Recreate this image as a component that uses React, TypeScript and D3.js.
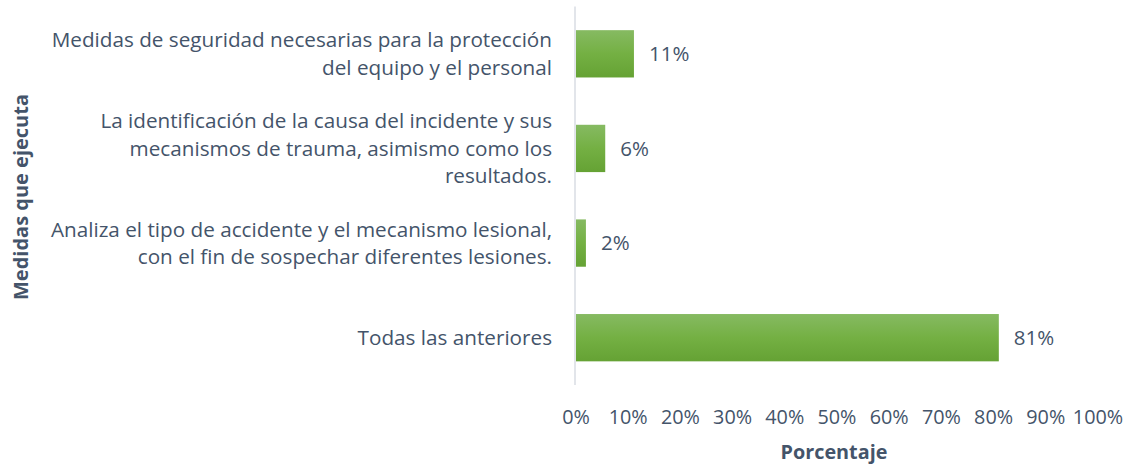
import React from "react";
import * as d3 from "d3";

const categories: string[][] = [
  ["Medidas de seguridad necesarias para la protección", "del equipo y el personal"],
  ["La identificación de la causa del incidente y sus", "mecanismos de trauma, asimismo como los", "resultados."],
  ["Analiza el tipo de accidente y el mecanismo lesional,", "con el fin de sospechar diferentes lesiones."],
  ["Todas las anteriores"],
];
const values: number[] = [0.111, 0.056, 0.019, 0.81];
const ticks: number[] = [0, 0.1, 0.2, 0.3, 0.4, 0.5, 0.6, 0.7, 0.8, 0.9, 1.0];
const xTitle = "Porcentaje";
const yTitle = "Medidas que ejecuta";

const W = 1128;
const H = 467;
const FONT = "'Open Sans', sans-serif";
const TEXT = "#44546a";

export default function App() {
  const x = d3.scaleLinear().domain([0, 1]).range([576, 1098]);
  const y = d3
    .scaleBand<number>()
    .domain(d3.range(categories.length))
    .range([6.5, 385])
    .paddingInner(0.5)
    .paddingOuter(0.25);
  const fmt = d3.format(".0%");
  const lh = 27.5;
  return (
    <svg width={W} height={H} style={{ position: "absolute", left: 0, top: 0, background: "#fff" }}>
      <defs>
        <linearGradient id="g" x1="0" y1="0" x2="0" y2="1">
          <stop offset="0" stopColor="#86ba62" />
          <stop offset="0.5" stopColor="#74b043" />
          <stop offset="1" stopColor="#65a234" />
        </linearGradient>
      </defs>
      <line x1={x(0) - 1} x2={x(0) - 1} y1={6.5} y2={385} stroke="#d9dde3" strokeWidth={1.5} />
      {values.map((v, i) => {
        const y0 = y(i)!;
        const bw = y.bandwidth();
        const cy = y0 + bw / 2;
        const lines = categories[i];
        return (
          <g key={i}>
            <rect x={x(0)} y={y0} width={x(v) - x(0)} height={bw} fill="url(#g)" />
            <text x={x(v) + 15} y={cy} dy="0.35em" fontFamily={FONT} fontSize={20.5} fill={TEXT}>
              {fmt(v)}
            </text>
            <text fontFamily={FONT} fontSize={20.7} fill={TEXT} textAnchor="end">
              {lines.map((l, j) => (
                <tspan key={j} x={552} y={cy + (j - (lines.length - 1) / 2) * lh} dy="0.35em">
                  {l}
                </tspan>
              ))}
            </text>
          </g>
        );
      })}
      {ticks.map((t) => (
        <text key={t} x={x(t)} y={417} dy="0.35em" textAnchor="middle" fontFamily={FONT} fontSize={19.8} fill={TEXT}>
          {fmt(t)}
        </text>
      ))}
      <text x={(x(0) + x(1)) / 2 - 3} y={452} dy="0.35em" textAnchor="middle" fontFamily={FONT} fontSize={19.8} fontWeight="bold" fill={TEXT}>
        {xTitle}
      </text>
      <text transform={`translate(21,${197}) rotate(-90)`} dy="0.35em" textAnchor="middle" fontFamily={FONT} fontSize={20} fontWeight="bold" fill={TEXT}>
        {yTitle}
      </text>
    </svg>
  );
}
